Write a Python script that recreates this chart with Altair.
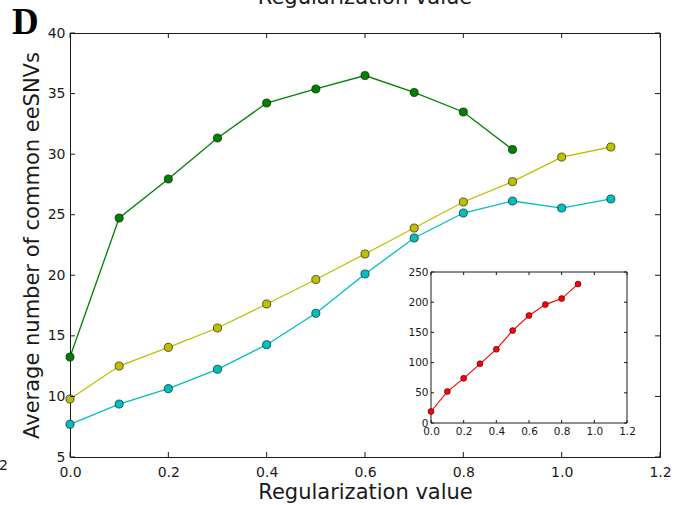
import altair as alt
import pandas as pd

# ---------------- data ----------------
reg_values = [0.0, 0.1, 0.2, 0.3, 0.4, 0.5, 0.6, 0.7, 0.8, 0.9, 1.0, 1.1]
green_values = [13.25, 24.73, 27.95, 31.33, 34.22, 35.38, 36.49, 35.09, 33.48, 30.38]
yellow_values = [9.79, 12.51, 14.05, 15.65, 17.63, 19.65, 21.76, 23.90, 26.05, 27.73, 29.76, 30.59]
cyan_values = [7.70, 9.37, 10.64, 12.24, 14.27, 16.86, 20.11, 23.08, 25.14, 26.13, 25.55, 26.30]

inset_reg = [0.0, 0.1, 0.2, 0.3, 0.4, 0.5, 0.6, 0.7, 0.8, 0.9]
red_values = [19, 52, 74, 98, 122, 153, 178, 196, 206, 230]

series_names = ["green", "yellow", "cyan"]
series_colors = ["#008000", "#bfbf00", "#00bfbf"]

main_x_ticks = [0.0, 0.2, 0.4, 0.6, 0.8, 1.0, 1.2]
main_y_ticks = [5, 10, 15, 20, 25, 30, 35, 40]
inset_x_ticks = [0.0, 0.2, 0.4, 0.6, 0.8, 1.0, 1.2]
inset_y_ticks = [0, 50, 100, 150, 200, 250]

x_title = "Regularization value"
y_title = "Average number of common eeSNVs"
panel_letter = ["D"]
top_cut_title = ["Regularization value"]
left_cut_label = ["1.2"]

# ---------------- tables ----------------
rows = []
for name, vals in zip(series_names, [green_values, yellow_values, cyan_values]):
    for xv, yv in zip(reg_values, vals):
        rows.append({"x": xv, "y": yv, "series": name})
main_df = pd.DataFrame(rows)
inset_df = pd.DataFrame({"x": inset_reg, "y": red_values})

W, H = 590, 424
IX0, IX1, IY0, IY1 = 361, 557, 390, 239
FONT = "DejaVu Sans"
INK = "#1a1a1a"

xs = alt.Scale(domain=[0, 1.2], nice=False, zero=False)
ys = alt.Scale(domain=[5, 40], nice=False, zero=False)
ixs = alt.Scale(domain=[0, 1.2], range=[IX0, IX1], nice=False, zero=False)
iys = alt.Scale(domain=[0, 250], range=[IY0, IY1], nice=False, zero=False)

x_axis = alt.Axis(
    title=x_title, values=main_x_ticks, format=".1f", domain=False, ticks=False,
    tickSize=0, labelPadding=8, labelFontSize=14, labelFlush=False,
    labelOverlap=False, grid=False, titleFontSize=21, titleFontWeight="normal",
    titleX=W / 2, titleY=41, titleBaseline="alphabetic", titleAlign="center",
)
y_axis = alt.Axis(
    title=y_title, values=main_y_ticks, format="d", domain=False, ticks=False,
    tickSize=0, labelPadding=5, labelFontSize=14, labelOverlap=False,
    labelFlush=False, grid=False, titleFontSize=21, titleFontWeight="normal",
    titleX=-38, titleY=H / 2, titleAngle=270, titleBaseline="middle",
    titleAlign="center",
)
ix_axis = alt.Axis(
    title=None, orient="bottom", offset=-(H - IY0), values=inset_x_ticks,
    format=".1f", domain=False, ticks=False, tickSize=0, labelPadding=3,
    labelFontSize=10.5, labelFlush=False, labelOverlap=False, grid=False,
)
iy_axis = alt.Axis(
    title=None, orient="left", offset=-IX0, values=inset_y_ticks, format="d",
    domain=False, ticks=False, tickSize=0, labelPadding=3, labelFontSize=10.5,
    labelFlush=False, labelOverlap=False, grid=False,
)

X = alt.X("x:Q", scale=xs, axis=x_axis)
Y = alt.Y("y:Q", scale=ys, axis=y_axis)
color = alt.Color("series:N", scale=alt.Scale(domain=series_names, range=series_colors), legend=None)

base = alt.Chart(main_df)
main_lines = base.mark_line(strokeWidth=1.3).encode(x=X, y=Y, color=color)
main_points = base.mark_circle(size=66, opacity=1, stroke="#000", strokeWidth=0.6).encode(
    x=X, y=Y, color=color
)

xt = alt.Chart(pd.DataFrame({"x": main_x_ticks}))
yt = alt.Chart(pd.DataFrame({"y": main_y_ticks}))
tick_b = xt.mark_rule(color=INK, strokeWidth=1).encode(x=X, y=alt.value(H), y2=alt.value(H - 5))
tick_t = xt.mark_rule(color=INK, strokeWidth=1).encode(x=X, y=alt.value(0), y2=alt.value(5))
tick_l = yt.mark_rule(color=INK, strokeWidth=1).encode(y=Y, x=alt.value(0), x2=alt.value(5))
tick_r = yt.mark_rule(color=INK, strokeWidth=1).encode(y=Y, x=alt.value(W), x2=alt.value(W - 5))

letter = alt.Chart(pd.DataFrame({"t": panel_letter})).mark_text(
    font="Liberation Serif", fontWeight="bold", fontSize=37, align="left",
    baseline="alphabetic", color="#000",
).encode(text="t:N", x=alt.value(-58), y=alt.value(1))
cut_title = alt.Chart(pd.DataFrame({"t": top_cut_title})).mark_text(
    font=FONT, fontSize=21, align="center", baseline="alphabetic", color=INK,
).encode(text="t:N", x=alt.value(W / 2), y=alt.value(-29))
cut_label = alt.Chart(pd.DataFrame({"t": left_cut_label})).mark_text(
    font=FONT, fontSize=14, align="right", baseline="middle", color=INK,
).encode(text="t:N", x=alt.value(-62), y=alt.value(433))

main_layer = alt.layer(
    main_lines, main_points, tick_b, tick_t, tick_l, tick_r, letter, cut_title, cut_label
)

# ---------------- inset ----------------
IXe = alt.X("x:Q", scale=ixs, axis=ix_axis)
IYe = alt.Y("y:Q", scale=iys, axis=iy_axis)

frame = alt.Chart(pd.DataFrame({"t": panel_letter})).mark_rect(
    fill="white", stroke=INK, strokeWidth=1
).encode(x=alt.value(IX0), x2=alt.value(IX1), y=alt.value(IY1), y2=alt.value(IY0))

ib = alt.Chart(inset_df)
red_line = ib.mark_line(color="#ff0000", strokeWidth=1.1).encode(x=IXe, y=IYe)
red_pts = ib.mark_circle(size=36, opacity=1, color="#ff0000", stroke="#000", strokeWidth=0.5).encode(
    x=IXe, y=IYe
)

ixt = alt.Chart(pd.DataFrame({"x": inset_x_ticks}))
iyt = alt.Chart(pd.DataFrame({"y": inset_y_ticks}))
itb = ixt.mark_rule(color=INK, strokeWidth=1).encode(x=IXe, y=alt.value(IY0), y2=alt.value(IY0 - 3))
itt = ixt.mark_rule(color=INK, strokeWidth=1).encode(x=IXe, y=alt.value(IY1), y2=alt.value(IY1 + 3))
itl = iyt.mark_rule(color=INK, strokeWidth=1).encode(y=IYe, x=alt.value(IX0), x2=alt.value(IX0 + 3))
itr = iyt.mark_rule(color=INK, strokeWidth=1).encode(y=IYe, x=alt.value(IX1), x2=alt.value(IX1 - 3))

inset_layer = alt.layer(frame, red_line, red_pts, itb, itt, itl, itr)

chart = (
    alt.layer(main_layer, inset_layer)
    .resolve_scale(x="independent", y="independent", color="independent")
    .properties(
        width=W,
        height=H,
        autosize=alt.AutoSizeParams(type="none"),
        padding={"left": 70, "top": 33, "right": 15, "bottom": 48},
        background="white",
    )
    .configure_view(stroke=INK, strokeWidth=1)
    .configure_axis(labelFont=FONT, titleFont=FONT, labelColor=INK, titleColor=INK)
)

chart.save("out.html", embed_options={"renderer": "svg", "actions": False})
